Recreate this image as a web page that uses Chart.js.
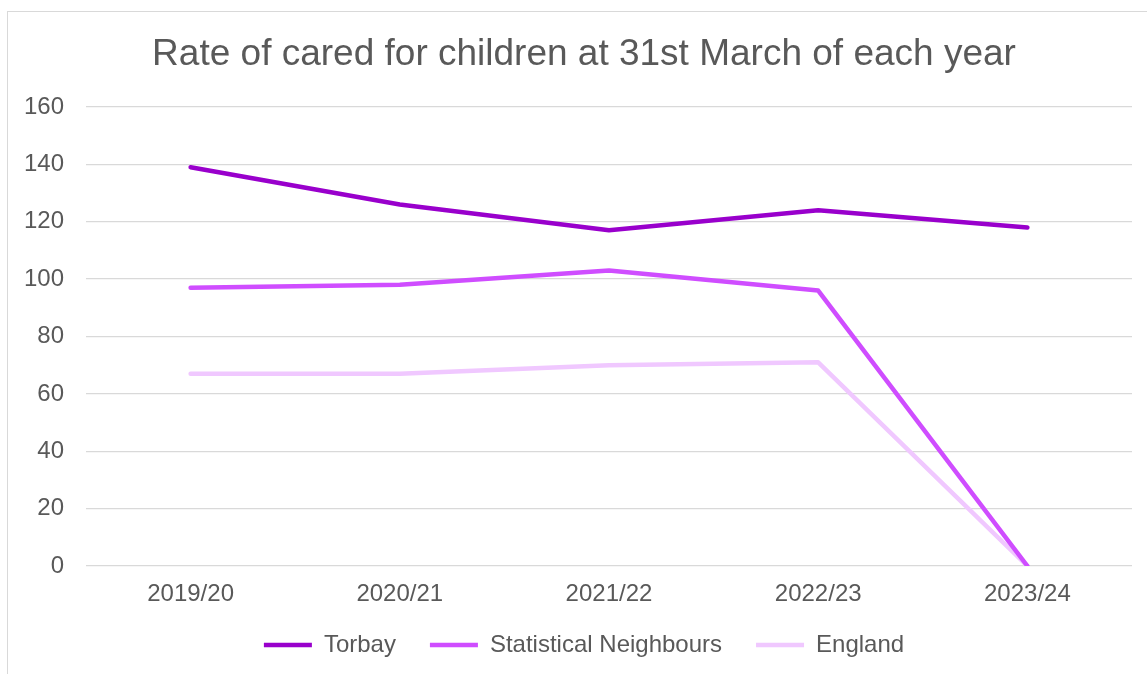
<!DOCTYPE html>
<html>
<head>
<meta charset="utf-8">
<script src="https://cdn.jsdelivr.net/npm/chart.js@4"></script>
<style>
  html, body { margin: 0; padding: 0; background: #fff; overflow: hidden; }
  #wrap { position: relative; width: 1147px; height: 674px; overflow: hidden; }
  #frame { position: absolute; left: 7px; top: 11px; width: 1200px; height: 700px; border: 1px solid #d9d9d9; box-sizing: border-box; }
  #box { position: absolute; left: 0; top: 0; width: 1160px; height: 674px; }
</style>
</head>
<body>
<div id="wrap">
  <div id="frame"></div>
  <div id="box"><canvas id="chart"></canvas></div>
</div>
<script>
// categorias e séries
const years = ['2019/20', '2020/21', '2021/22', '2022/23', '2023/24'];
const torbay = [139, 126, 117, 124, 118];
const statNeighbours = [97, 98, 103, 96, 0];
const england = [67, 67, 70, 71, 0];

const seriesNames = ['Torbay', 'Statistical Neighbours', 'England'];
const seriesColors = ['#9900cc', '#cf4dff', '#f0c8ff'];

Chart.defaults.font.family = "'Liberation Sans', Arial, sans-serif";
Chart.defaults.color = '#595959';

// sobe a legenda alguns pixels (o padding dela vale para os dois sentidos)
const legendShift = {
    id: 'legendShift',
    afterLayout(chart) {
        if (chart.legend) {
            chart.legend.top -= 7;
            chart.legend.bottom -= 7;
        }
    }
};

const ctx = document.getElementById('chart').getContext('2d');

function makeSet(i, data) {
    return {
        label: seriesNames[i],
        data: data,
        borderColor: seriesColors[i],
        backgroundColor: seriesColors[i],
        borderWidth: 4.5,
        borderCapStyle: 'round',
        borderJoinStyle: 'round',
        pointRadius: 0,
        pointHoverRadius: 0,
        tension: 0,
        fill: false
    };
}

new Chart(ctx, {
    type: 'line',
    data: {
        labels: years,
        datasets: [
            makeSet(0, torbay),
            makeSet(1, statNeighbours),
            makeSet(2, england)
        ]
    },
    options: {
        responsive: true,
        maintainAspectRatio: false,
        animation: false,
        layout: { padding: { left: 8, right: 0, top: 0, bottom: 0 } },
        plugins: {
            title: {
                display: true,
                text: 'Rate of cared for children at 31st March of each year',
                font: { size: 37, weight: 'normal' },
                color: '#595959',
                padding: { top: 33, bottom: 29.6 }
            },
            legend: {
                position: 'bottom',
                labels: {
                    usePointStyle: true,
                    pointStyle: 'line',
                    pointStyleWidth: 48,
                    padding: 34,
                    font: { size: 24 },
                    color: '#595959'
                }
            },
            tooltip: { enabled: false }
        },
        scales: {
            x: {
                offset: true,
                grid: { display: false, drawTicks: false },
                border: { display: false },
                ticks: { padding: 14, font: { size: 24 }, color: '#595959', maxRotation: 0 },
                afterFit: (s) => { s.height = 40; }
            },
            y: {
                min: 0,
                max: 160,
                ticks: { stepSize: 20, padding: 22, font: { size: 24 }, color: '#595959' },
                grid: { color: '#d9d9d9', lineWidth: 1.3, drawTicks: false },
                border: { display: false },
                afterFit: (s) => { s.width = 78; }
            },
            // eixo vazio à direita só para reservar a margem
            yRight: {
                position: 'right',
                min: 0,
                max: 160,
                grid: { display: false, drawTicks: false },
                border: { display: false },
                ticks: { display: false },
                afterFit: (s) => { s.width = 28; }
            }
        }
    },
    plugins: [legendShift]
});
</script>
</body>
</html>
